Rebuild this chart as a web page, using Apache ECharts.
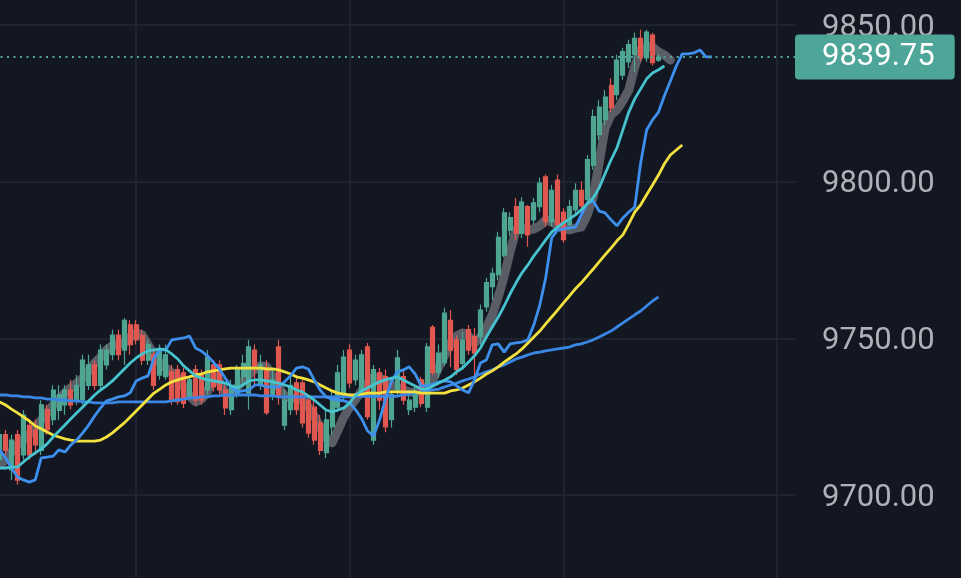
<!DOCTYPE html>
<html>
<head>
<meta charset="utf-8">
<script src="https://cdn.jsdelivr.net/npm/echarts@6/dist/echarts.min.js"></script>
<style>
html,body{margin:0;padding:0;background:#131722;}
#chart{width:961px;height:578px;}
</style>
</head>
<body>
<div id="chart"></div>
<script>
// ---- data (bars indexed on a category axis) ----
const categories = Array.from({length: 148}, (_, i) => 'B' + i);
const yMin = 9650, yMax = 9900, yStep = 50;
const lastPrice = 9839.75;

// candles: [open, close, low, high], first bar at index 13
const candleStart = 13;
const candles = [
  [9711.25,9719.25,9709.5,9720.75],[9719.25,9714.25,9712.75,9720.75],[9708,9717.5,9704.75,9719.25],[9719.25,9704.75,9703.25,9720.75],[9712.75,9725.5,9711.25,9727],
  [9722.25,9712.75,9711.25,9724],[9720.75,9716,9712.75,9724],[9714.25,9728.75,9712.75,9730.25],[9727.25,9720.75,9719.25,9728.75],[9724,9733.5,9722.25,9735],
  [9727,9732,9724,9735],[9728.75,9733.5,9725.5,9735],[9733.5,9728.75,9727.25,9736.75],[9730.25,9735,9728.75,9738.25],[9730.25,9743,9728.75,9744.75],
  [9735,9741.5,9733.5,9744.75],[9741.5,9735,9733.5,9743],[9735,9746.25,9733.5,9748],[9741.5,9746.25,9740,9748],[9744.75,9751,9743,9752.75],
  [9751,9744.75,9743,9752.75],[9746.25,9755.75,9741.5,9756.5],[9754.25,9748,9744.75,9755.75],[9754.25,9749.5,9748,9755.75],[9751,9743,9741.5,9752.75],
  [9743,9748,9741.5,9749.5],[9744.75,9735,9733.5,9746.25],[9738.25,9746.25,9736.75,9748],[9737.75,9744.75,9736.75,9748],[9739.25,9730.25,9728.75,9741.5],
  [9740,9729.75,9728.75,9741.5],[9739,9729.25,9727.75,9740.5],[9731.25,9736.75,9730.25,9738.25],[9740,9730.25,9728.75,9741.5],[9738.25,9730.25,9728.75,9740],
  [9733.5,9744,9732,9746.25],[9741.5,9734.5,9733,9743],[9741.5,9733.5,9732,9743],[9733.5,9727.75,9725.5,9735],[9727.25,9735,9725.5,9736.75],
  [9732.5,9740,9731,9741.5],[9737.75,9742,9735,9744.75],[9732.5,9747.25,9727.25,9749.5],[9746.25,9740,9735,9748],[9735,9741.5,9733.5,9744.75],
  [9740.75,9726.25,9725.5,9743],[9732,9736.75,9730.25,9740],[9747.25,9731.25,9728.75,9749.5],[9722.25,9730.25,9720.75,9733.5],[9727.25,9735,9725.5,9738.25],
  [9735.75,9727.25,9725.5,9738.25],[9735.75,9723,9721.5,9737.25],[9730.25,9719.75,9718.25,9732],[9728,9717.5,9716,9730.25],[9723,9714.25,9712.75,9725.5],
  [9713.5,9724,9711.75,9727.25],[9721.75,9731.25,9719.25,9733.5],[9728,9739,9726.5,9741.5],[9731.25,9744,9730.25,9746.25],[9746.25,9735.75,9734.25,9748],
  [9736.75,9743,9735,9744.75],[9733.5,9744.75,9732,9746.25],[9747.25,9725,9724,9748.5],[9717.5,9740,9716,9741.5],[9739,9730.25,9727.25,9740.5],
  [9737.75,9721.75,9720,9740],[9724,9732,9721.5,9733.5],[9733.5,9743.75,9732,9746.25],[9737.75,9730.25,9728.75,9740],[9727.25,9730.25,9725.5,9732],
  [9728,9732.5,9726.5,9735],[9736.75,9729.25,9728,9737.75],[9728,9747.25,9726.5,9748.5],[9753.5,9739,9738.25,9754.25],[9739,9745.25,9737.25,9748],
  [9742.25,9758,9741.25,9759.75],[9755.75,9746.25,9740.75,9759],[9749.5,9740,9738.25,9751],[9742,9749.5,9740.75,9752],[9752.75,9746.25,9744.75,9754.25],
  [9750.5,9745.25,9737.75,9753.25],[9750.5,9759,9748,9760.75],[9760,9767.75,9758.5,9769.25],[9766.5,9770.75,9762.25,9772.5],[9770.25,9782.25,9768.5,9784],
  [9776.5,9790,9775.75,9791.5],[9784.5,9788.5,9782.75,9790.25],[9792,9783.5,9781.5,9794.75],[9783.5,9793.5,9782,9795],[9792,9783,9779.25,9792.5],
  [9787.75,9793.25,9786.25,9794.75],[9792,9799.5,9790.25,9801.25],[9801.5,9787.25,9785.5,9802.25],[9787.25,9797.25,9785.75,9799],[9800.5,9786.25,9784.5,9802.25],
  [9790.25,9781.5,9780.5,9791.5],[9786.25,9792,9784.5,9794.25],[9791,9797.25,9789.5,9799.5],[9797.25,9792.25,9791,9800],[9794.25,9807,9792.5,9808.5],
  [9805.25,9820.75,9803.75,9823],[9815,9823.75,9813.25,9826],[9819.75,9827,9818,9829.25],[9830.75,9823.5,9822.25,9833],[9827.75,9838.75,9826,9840.5],
  [9834,9841.5,9832.5,9842.75],[9838.25,9843.75,9836.25,9845.25],[9840.5,9845.75,9835,9847.5],[9845.75,9839.5,9838.25,9848.5],[9839.5,9847.75,9838.25,9848.5],
  [9846.75,9838,9837,9847.5],[9838.75,9839.75,9838.25,9840.75]
];

// thick grey line, first point at index 13
const grayStart = 13;
const grayLine = [
  9709.6,9711.2,9713.7,9716.0,9717.6,9719.5,9721.7,9723.9,9726.2,9728.7,
  9730.6,9732.6,9734.2,9735.7,9737.3,9739.6,9742.1,9744.0,9746.3,9747.6,
  9748.2,9748.5,9750.4,9751.7,9751.1,9747.9,9744.7,9742.1,9740.5,9738.9,
  9737.3,9734.5,9731.6,9729.7,9730.6,9732.9,9738.0,9736.4,9732.6,9732.2,
  9734.2,9736.4,9738.3,9740.2,9741.2,9740.9,9737.7,9734.5,9731.6,9731.0,
  9730.6,9730.3,9728.1,9725.2,9721.7,9718.2,9716.6,9720.7,9724.9,9728.1,
  9730.6,9733.2,9735.7,9737.7,9737.3,9736.4,9735.1,9734.2,9733.5,9732.9,
  9732.6,9733.2,9734.5,9737.0,9740.9,9744.7,9748.5,9750.7,9751.7,9750.7,
  9748.5,9750.4,9753.3,9757.5,9763.2,9769.9,9777.6,9784.6,9785.2,9784.6,
  9784.9,9785.9,9787.8,9787.1,9785.9,9784.9,9784.6,9785.2,9785.5,9789.4,
  9795.1,9806.0,9817.1,9821.3,9822.9,9825.8,9829.3,9836.6,9842.0,9843.0,
  9843.0,9841.4,9840.4,9838.8
];

// cyan line, first point at index 13
const tealStart = 13;
const tealLine = [
  9708.6,9708.6,9708.9,9708.9,9710.5,9712.1,9713.4,9714.7,9716.3,9718.5,
  9720.4,9722.3,9724.3,9726.2,9728.1,9730.0,9731.9,9733.5,9734.8,9736.4,
  9738.3,9740.2,9742.1,9743.7,9745.0,9746.0,9746.3,9746.6,9746.3,9745.0,
  9743.4,9741.2,9739.6,9738.0,9737.3,9736.7,9736.4,9736.1,9735.7,9734.8,
  9734.2,9735.1,9736.4,9736.7,9736.7,9736.4,9736.1,9735.7,9735.1,9734.5,
  9733.5,9732.9,9731.6,9730.3,9728.7,9727.1,9726.5,9727.1,9727.8,9729.4,
  9731.9,9733.2,9734.2,9735.1,9736.1,9736.7,9737.3,9737.7,9736.7,9735.7,
  9734.8,9733.8,9733.8,9734.8,9735.7,9736.7,9737.7,9739.3,9740.5,9742.4,
  9744.4,9746.9,9750.4,9753.6,9756.8,9760.3,9764.2,9767.7,9770.9,9773.4,
  9776.3,9778.8,9781.4,9783.9,9785.5,9786.8,9788.1,9789.4,9791.0,9792.9,
  9794.8,9798.0,9802.5,9806.9,9810.8,9816.5,9822.2,9826.4,9829.6,9832.8,
  9834.7,9835.7,9836.9
];

// jagged blue line, first point at index 13
const blueStart = 13;
const blueLine = [
  9714.4,9711.8,9708.6,9705.7,9704.8,9704.1,9704.8,9711.8,9712.1,9712.4,
  9714.4,9713.7,9716.0,9717.6,9719.8,9722.3,9725.2,9727.8,9730.0,9730.6,
  9731.3,9731.6,9732.6,9736.4,9737.3,9738.0,9743.7,9746.3,9746.3,9749.5,
  9749.8,9750.1,9750.7,9746.9,9745.9,9744.4,9742.4,9740.2,9737.3,9734.5,
  9732.9,9733.2,9733.5,9735.1,9735.1,9734.5,9734.5,9734.5,9736.1,9738.0,
  9740.5,9740.9,9740.2,9736.7,9733.5,9731.3,9730.6,9730.3,9730.0,9729.4,
  9727.1,9724.3,9720.4,9718.8,9723.9,9730.6,9736.1,9739.3,9739.9,9740.9,
  9738.6,9734.8,9734.8,9735.4,9736.1,9736.4,9736.1,9734.8,9733.5,9732.6,
  9736.7,9742.1,9743.1,9747.9,9748.2,9745.6,9748.2,9748.5,9748.8,9749.5,
  9754.3,9760.6,9769.3,9782.0,9784.6,9784.9,9785.2,9785.5,9789.4,9793.2,
  9793.8,9790.6,9790.0,9787.8,9785.9,9788.4,9790.3,9791.9,9806.0,9816.5,
  9819.7,9822.2,9827.4,9832.1,9836.9,9840.8,9840.8,9841.1,9842.0,9839.8,
  9839.8
];

// slow blue line, first point at index 13
const slowStart = 13;
const slowLine = [
  9731.9,9731.9,9731.6,9731.6,9731.3,9731.3,9731.0,9731.0,9730.6,9730.6,
  9730.3,9730.3,9730.0,9730.0,9729.7,9729.7,9729.4,9729.4,9729.4,9729.4,
  9729.7,9729.7,9729.7,9729.7,9729.7,9729.7,9729.7,9729.7,9729.7,9730.0,
  9730.3,9730.6,9731.0,9731.0,9731.3,9731.3,9731.6,9731.6,9731.9,9731.9,
  9731.9,9731.9,9731.9,9731.9,9731.6,9731.6,9731.6,9731.3,9731.3,9731.3,
  9731.3,9731.3,9731.3,9731.3,9731.3,9731.3,9731.3,9731.3,9731.3,9731.3,
  9731.5,9731.5,9731.5,9731.5,9731.5,9731.5,9731.5,9731.5,9731.9,9732.2,
  9732.6,9732.9,9733.2,9733.5,9733.8,9734.5,9735.1,9735.7,9736.4,9737.0,
  9737.7,9738.6,9739.3,9739.9,9740.9,9741.5,9742.4,9743.4,9744.0,9744.7,
  9745.3,9745.6,9746.0,9746.3,9746.6,9746.9,9747.2,9747.9,9748.2,9748.8,
  9749.5,9750.4,9751.4,9752.3,9753.6,9754.9,9756.2,9757.5,9758.7,9760.3,
  9761.9,9763.2
];

// yellow line, first point at index 13
const yellowStart = 13;
const yellowLine = [
  9729.7,9728.7,9727.4,9726.2,9724.9,9723.6,9722.0,9721.1,9720.1,9719.1,
  9718.5,9717.9,9717.5,9717.2,9717.2,9717.2,9717.2,9717.5,9718.5,9719.8,
  9721.4,9723.0,9724.9,9726.8,9728.7,9730.6,9732.5,9733.8,9735.1,9736.1,
  9736.7,9737.3,9737.7,9738.3,9738.6,9739.3,9739.6,9739.9,9740.2,9740.5,
  9740.5,9740.5,9740.5,9740.5,9740.5,9740.2,9740.2,9739.9,9739.3,9738.6,
  9737.7,9737.3,9736.7,9736.1,9735.1,9734.1,9733.2,9732.5,9732.2,9731.9,
  9731.9,9732.2,9732.5,9732.5,9732.5,9732.9,9732.9,9732.9,9732.9,9732.9,
  9732.9,9732.5,9732.5,9732.5,9732.5,9732.5,9733.2,9733.5,9734.1,9735.1,
  9736.1,9737.3,9738.6,9739.6,9740.9,9742.4,9743.7,9745.0,9746.6,9748.5,
  9750.4,9752.3,9754.6,9756.8,9759.0,9761.3,9763.5,9765.8,9767.7,9769.9,
  9772.1,9774.4,9776.6,9778.8,9781.1,9783.0,9786.5,9790.3,9792.6,9795.8,
  9798.9,9802.1,9805.7,9808.5,9810.1,9811.7
];

// ---- build series data aligned to categories ----
function pad(start, arr) {
  const out = new Array(categories.length).fill('-');
  arr.forEach((v, k) => { out[start + k] = v; });
  return out;
}

const upColor = '#4ea592', downColor = '#e0584f';
const fontFam = 'Roboto, "Noto Sans", sans-serif';
const chart = echarts.init(document.getElementById('chart'));
const lineBase = { type: 'line', showSymbol: false, symbol: 'none', animation: false, silent: true };

chart.setOption({
  backgroundColor: '#131722',
  animation: false,
  grid: {
    left: -77.5, top: -131.7, width: 872.5, height: 783.3,
    containLabel: false,
    outerBoundsMode: 'none'
  },
  xAxis: {
    type: 'category',
    data: categories,
    boundaryGap: false,
    axisLine: { show: false },
    axisTick: { show: false, interval: 35 },
    axisLabel: { show: false, interval: 35 },
    splitLine: { show: true, interval: 35, lineStyle: { color: '#242835', width: 1.5 } }
  },
  yAxis: {
    type: 'value',
    position: 'right',
    min: yMin, max: yMax, interval: yStep,
    axisLine: { show: false },
    axisTick: { show: false },
    axisLabel: {
      margin: 27,
      formatter: v => '{v|' + v.toFixed(2) + '}',
      rich: { v: { color: '#aeb1b8', fontSize: 31, fontFamily: fontFam, padding: [6, 0, 0, 0] } }
    },
    splitLine: { show: true, lineStyle: { color: '#242835', width: 1.5 } }
  },
  series: [
    Object.assign({}, lineBase, {
      name: 'gray', data: pad(grayStart, grayLine), z: 1,
      lineStyle: { color: 'rgba(118,120,128,0.72)', width: 9, cap: 'round', join: 'round' }
    }),
    {
      name: 'price', type: 'candlestick', z: 2, animation: false,
      data: pad(candleStart, candles),
      barWidth: 4.5,
      itemStyle: { color: upColor, color0: downColor, borderColor: upColor, borderColor0: downColor, borderWidth: 1.2 },
      markLine: {
        silent: true, animation: false,
        symbol: ['none', 'none'],
        lineStyle: { color: '#4ea699', type: [2, 4.5], width: 1.8 },
        label: {
          show: true, position: 'end', distance: 0,
          formatter: p => p.value.toFixed(2),
          color: '#ffffff', fontSize: 31,
          fontFamily: fontFam,
          backgroundColor: '#4ea699', borderRadius: 4,
          padding: [8, 20, 7, 27], lineHeight: 30
        },
        data: [{ yAxis: lastPrice }]
      }
    },
    Object.assign({}, lineBase, {
      name: 'slow', data: pad(slowStart, slowLine), z: 3,
      lineStyle: { color: '#3a86e4', width: 2.8 }
    }),
    Object.assign({}, lineBase, {
      name: 'yellow', data: pad(yellowStart, yellowLine), z: 3,
      lineStyle: { color: '#f2e13f', width: 2.8 }
    }),
    Object.assign({}, lineBase, {
      name: 'blue', data: pad(blueStart, blueLine), z: 4,
      lineStyle: { color: '#3d90ee', width: 2.8 }
    }),
    Object.assign({}, lineBase, {
      name: 'teal', data: pad(tealStart, tealLine), z: 4,
      lineStyle: { color: '#46c3cf', width: 2.8 }
    })
  ]
});
</script>
</body>
</html>
